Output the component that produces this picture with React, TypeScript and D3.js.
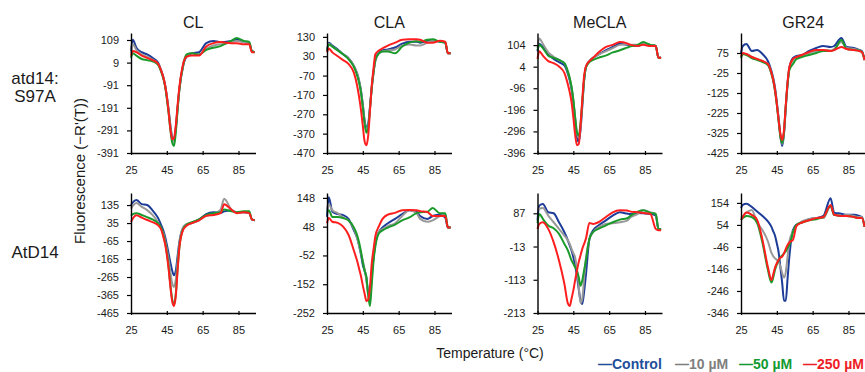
import React, { useEffect, useRef } from "react";
import * as d3 from "d3";

// temperatures (°C) at which the curves are sampled
const temps = [25, 26, 28, 31, 34, 37, 40, 42, 43, 44, 45, 46, 47, 48, 49, 50, 51, 52, 54, 56, 59, 63, 67, 71, 75, 77, 81, 84, 88, 91, 92.5, 94];

const seriesNames = ["—Control", "—10 µM", "—50 µM", "—250 µM"];
const seriesColors = ["#1c3c98", "#999999", "#1a9a2a", "#ff1e1e"];
const legendColors = ["#1f4e9a", "#7f7f7f", "#139a30", "#ee1c25"];
const compounds = ["CL", "CLA", "MeCLA", "GR24"];
const xTicks = [25, 45, 65, 85];

const yTicksS97A = [
  [109, 9, -91, -191, -291, -391],
  [130, 30, -70, -170, -270, -370, -470],
  [104, 4, -96, -196, -296, -396],
  [75, -25, -125, -225, -325, -425],
];
const yTopS97A = [140, 150, 160, 175];

const yTicksAtD14 = [
  [135, 35, -65, -165, -265, -365, -465],
  [148, 48, -52, -152, -252],
  [87, -13, -113, -213],
  [154, 54, -46, -146, -246, -346],
];
const yTopAtD14 = [202, 165, 148, 199];

// each panel: [Control, 10 µM, 50 µM, 250 µM]
const s97aCL = [
  [60, 110, 75, 55, 45, 30, 10, -30, -55, -90, -140, -200, -270, -320, -330, -280, -190, -110, -10, 35, 50, 55, 95, 105, 100, 100, 105, 110, 100, 95, 60, 55],
  [50, 90, 65, 45, 35, 22, 5, -30, -55, -90, -140, -200, -270, -330, -340, -290, -200, -110, -10, 40, 50, 45, 70, 85, 90, 92, 100, 105, 100, 95, 60, 55],
  [30, 50, 40, 25, 20, 15, 0, -35, -60, -95, -150, -215, -290, -345, -360, -300, -200, -110, -5, 45, 50, 45, 65, 75, 82, 90, 105, 118, 105, 100, 60, 55],
  [40, 60, 55, 40, 30, 20, 5, -30, -55, -90, -140, -210, -285, -330, -325, -270, -180, -100, 0, 35, 40, 40, 80, 95, 100, 98, 95, 95, 90, 90, 55, 55],
];
const s97aCLA = [
  [60, 100, 85, 65, 40, 20, -20, -65, -100, -150, -220, -300, -340, -320, -230, -130, -50, 10, 50, 60, 65, 75, 95, 105, 105, 100, 110, 110, 105, 100, 45, 45],
  [55, 95, 80, 60, 40, 20, -20, -65, -100, -150, -225, -310, -350, -330, -240, -135, -55, 5, 45, 55, 60, 65, 85, 90, 85, 85, 100, 110, 105, 100, 45, 45],
  [55, 90, 80, 60, 40, 15, -25, -75, -110, -160, -235, -320, -365, -340, -240, -130, -50, 10, 45, 55, 55, 45, 80, 100, 108, 105, 115, 118, 105, 100, 45, 45],
  [50, 70, 50, 30, 10, -10, -55, -130, -185, -250, -330, -410, -430, -380, -250, -120, -30, 40, 60, 70, 85, 100, 115, 118, 118, 115, 100, 100, 110, 105, 45, 45],
];
const s97aMeCLA = [
  [75, 110, 95, 60, 40, 25, 10, -30, -60, -100, -160, -240, -320, -345, -290, -180, -60, 0, 30, 45, 60, 80, 95, 110, 105, 102, 100, 110, 105, 100, 45, 45],
  [90, 135, 110, 70, 50, 35, 20, -20, -50, -90, -150, -230, -300, -325, -280, -170, -60, 0, 30, 45, 60, 75, 90, 105, 108, 105, 105, 110, 105, 100, 45, 45],
  [80, 105, 90, 55, 45, 35, 20, -20, -50, -90, -150, -230, -300, -315, -260, -160, -60, 0, 25, 35, 45, 55, 70, 80, 92, 98, 105, 118, 105, 100, 45, 45],
  [40, 75, 55, 30, 20, 5, -25, -80, -115, -160, -230, -310, -360, -355, -270, -150, -40, 5, 30, 45, 70, 95, 105, 118, 112, 105, 100, 105, 100, 100, 45, 45],
];
const s97aGR24 = [
  [75, 110, 120, 85, 90, 70, 35, -15, -50, -100, -170, -250, -340, -390, -330, -200, -80, 0, 50, 60, 65, 85, 100, 110, 105, 110, 150, 105, 100, 90, 85, 40],
  [55, 70, 70, 55, 45, 35, 20, -25, -60, -110, -180, -260, -340, -380, -320, -190, -75, 0, 40, 55, 60, 75, 85, 90, 88, 95, 130, 100, 95, 88, 80, 40],
  [50, 70, 65, 50, 40, 30, 15, -30, -65, -115, -185, -265, -345, -375, -320, -190, -80, -10, 20, 45, 55, 65, 75, 85, 85, 90, 140, 95, 90, 88, 80, 40],
  [60, 75, 70, 55, 45, 35, 20, -25, -60, -110, -180, -260, -330, -360, -310, -185, -70, 5, 45, 55, 65, 80, 90, 90, 85, 90, 105, 95, 90, 85, 80, 40],
];

const atd14CL = [
  [135, 150, 163, 140, 135, 105, 65, 20, -5, -40, -85, -135, -185, -230, -255, -230, -150, -70, 5, 25, 35, 55, 85, 95, 92, 100, 105, 95, 95, 90, 55, 50],
  [115, 130, 146, 125, 107, 80, 40, 0, -20, -60, -110, -170, -240, -300, -320, -280, -180, -80, 10, 30, 35, 50, 75, 85, 110, 170, 110, 95, 95, 90, 55, 50],
  [75, 85, 90, 80, 68, 55, 35, 5, -30, -70, -130, -210, -310, -390, -420, -360, -220, -100, 0, 25, 40, 55, 80, 90, 95, 110, 100, 95, 100, 100, 55, 50],
  [40, 60, 79, 65, 52, 40, 24, -5, -40, -80, -140, -220, -320, -400, -426, -370, -230, -100, -5, 20, 35, 50, 75, 80, 90, 140, 110, 90, 95, 90, 55, 50],
];
const atd14CLA = [
  [82, 150, 100, 92, 88, 75, 35, 5, -20, -50, -85, -105, -130, -180, -175, -110, -57, -10, 30, 45, 60, 75, 92, 105, 100, 85, 75, 85, 90, 80, 45, 45],
  [100, 125, 105, 95, 80, 70, 40, 5, -20, -45, -70, -100, -140, -190, -205, -130, -60, -10, 30, 40, 50, 60, 85, 105, 95, 75, 65, 70, 85, 90, 45, 45],
  [96, 105, 82, 82, 78, 70, 45, 15, -9, -40, -75, -105, -127, -190, -228, -150, -70, -20, 25, 35, 45, 55, 70, 80, 95, 98, 100, 113, 95, 95, 45, 45],
  [60, 78, 65, 61, 48, 20, -35, -75, -100, -125, -157, -185, -210, -205, -160, -78, -30, 15, 50, 75, 90, 96, 105, 106, 105, 102, 99, 85, 85, 85, 45, 45],
];
const atd14MeCLA = [
  [66, 110, 115, 90, 87, 60, 30, 5, -10, -25, -45, -70, -100, -140, -175, -186, -150, -100, 10, 35, 50, 65, 80, 90, 86, 85, 88, 87, 85, 80, 40, 40],
  [96, 100, 103, 80, 60, 40, 20, 5, -5, -20, -33, -46, -80, -130, -183, -170, -110, -50, 10, 30, 45, 55, 57, 60, 65, 75, 85, 96, 90, 85, 40, 40],
  [57, 85, 70, 50, 42, 25, -5, -25, -40, -55, -65, -75, -86, -105, -131, -115, -85, -55, 10, 30, 40, 50, 60, 68, 72, 80, 92, 96, 88, 85, 40, 40],
  [40, 55, 60, 40, 0, -55, -125, -185, -192, -170, -145, -115, -86, -60, -40, -20, -5, 10, 58, 55, 60, 75, 90, 96, 95, 92, 90, 88, 85, 40, 36, 36],
];
const atd14GR24 = [
  [131, 145, 150, 136, 115, 95, 70, 45, 25, 5, -30, -70, -140, -210, -290, -290, -190, -90, 31, 55, 65, 80, 85, 95, 175, 110, 105, 100, 100, 95, 90, 45],
  [86, 95, 110, 122, 65, 30, -20, -73, -88, -98, -104, -115, -135, -165, -185, -160, -90, -20, 25, 50, 70, 80, 85, 85, 140, 100, 95, 100, 95, 90, 90, 45],
  [77, 85, 95, 90, 63, -28, -150, -208, -185, -150, -125, -105, -93, -85, -75, -65, -50, -37, 20, 55, 65, 75, 80, 90, 140, 100, 95, 95, 90, 85, 85, 45],
  [77, 90, 110, 100, 77, -14, -137, -196, -170, -140, -120, -105, -95, -90, -75, -55, -37, -25, -14, 50, 65, 75, 85, 90, 145, 100, 95, 95, 90, 85, 85, 45],
];

const s97aData = [s97aCL, s97aCLA, s97aMeCLA, s97aGR24];
const atd14Data = [atd14CL, atd14CLA, atd14MeCLA, atd14GR24];

const FONT = "'Liberation Sans', Arial, sans-serif";

const App = () => {
  const ref = useRef(null);

  useEffect(() => {
    const width = 865;
    const height = 372;
    const svg = d3.select(ref.current).attr("width", width).attr("height", height);
    svg.selectAll("*").remove();

    const panelLeft = [131, 327, 537.5, 741];
    const panelWidth = 124.5;
    const rowTop = [33, 193];
    const rowHeight = 120;

    const rows = [
      { data: s97aData, ticks: yTicksS97A, tops: yTopS97A },
      { data: atd14Data, ticks: yTicksAtD14, tops: yTopAtD14 },
    ];

    rows.forEach((row, r) => {
      const top = rowTop[r];
      const bottom = top + rowHeight;
      row.data.forEach((panel, c) => {
        const left = panelLeft[c];
        const ticks = row.ticks[c];
        const x = d3.scaleLinear().domain([25, 94.5]).range([left, left + panelWidth]);
        const y = d3
          .scaleLinear()
          .domain([d3.min(ticks), row.tops[c]])
          .range([bottom, top]);

        const line = d3
          .line()
          .x((d) => x(d[0]))
          .y((d) => y(d[1]))
          .curve(d3.curveMonotoneX);

        panel.forEach((vals, s) => {
          svg
            .append("path")
            .datum(temps.map((t, i) => [t, vals[i]]))
            .attr("d", line)
            .attr("fill", "none")
            .attr("stroke", seriesColors[s])
            .attr("stroke-width", 2)
            .attr("stroke-linejoin", "round");
        });

        // y axis
        const gy = svg
          .append("g")
          .attr("transform", `translate(${left},0)`)
          .call(
            d3
              .axisLeft(y)
              .tickValues(ticks)
              .tickSizeInner(4)
              .tickSizeOuter(0)
              .tickPadding(8)
              .tickFormat((d) => String(d)),
          );

        // x axis
        const gx = svg
          .append("g")
          .attr("transform", `translate(0,${bottom})`)
          .call(
            d3
              .axisBottom(x)
              .tickValues(xTicks)
              .tickSizeInner(2)
              .tickSizeOuter(0)
              .tickPadding(11)
              .tickFormat((d) => String(d)),
          );
        gx.selectAll(".tick line").attr("y1", -2).attr("y2", 2);

        [gx, gy].forEach((g) => {
          g.select(".domain").attr("stroke", "#000").attr("stroke-width", 1.4);
          g.selectAll(".tick line").attr("stroke", "#000").attr("stroke-width", 1.2);
          g.selectAll("text")
            .attr("fill", "#1a1a1a")
            .style("font-family", FONT)
            .style("font-size", "11px");
        });

        if (r === 0) {
          svg
            .append("text")
            .attr("x", left + panelWidth / 2)
            .attr("y", 27.5)
            .attr("text-anchor", "middle")
            .style("font-family", FONT)
            .style("font-size", "16px")
            .attr("fill", "#1a1a1a")
            .text(compounds[c]);
        }
      });
    });

    // row labels
    const rowLabel = (txt, yPos) =>
      svg
        .append("text")
        .attr("x", 35)
        .attr("y", yPos)
        .attr("text-anchor", "middle")
        .style("font-family", FONT)
        .style("font-size", "17px")
        .attr("fill", "#1a1a1a")
        .text(txt);
    rowLabel("atd14:", 84);
    rowLabel("S97A", 102);
    rowLabel("AtD14", 258);

    // axis titles
    svg
      .append("text")
      .attr("transform", "translate(79,171) rotate(-90)")
      .attr("text-anchor", "middle")
      .attr("dominant-baseline", "central")
      .style("font-family", FONT)
      .style("font-size", "15px")
      .attr("fill", "#1a1a1a")
      .text("Fluorescence (−R'(T))");

    svg
      .append("text")
      .attr("x", 490)
      .attr("y", 358)
      .attr("text-anchor", "middle")
      .style("font-family", FONT)
      .style("font-size", "14px")
      .attr("fill", "#1a1a1a")
      .text("Temperature (°C)");

    // legend
    const legendX = [598, 675, 739, 803];
    seriesNames.forEach((name, i) => {
      svg
        .append("text")
        .attr("x", legendX[i])
        .attr("y", 369)
        .style("font-family", FONT)
        .style("font-size", "14px")
        .style("font-weight", "bold")
        .attr("fill", legendColors[i])
        .text(name);
    });
  }, []);

  return (
    <svg
      ref={ref}
      style={{ position: "absolute", left: 0, top: 0, display: "block", background: "#fff" }}
    ></svg>
  );
};

export default App;
